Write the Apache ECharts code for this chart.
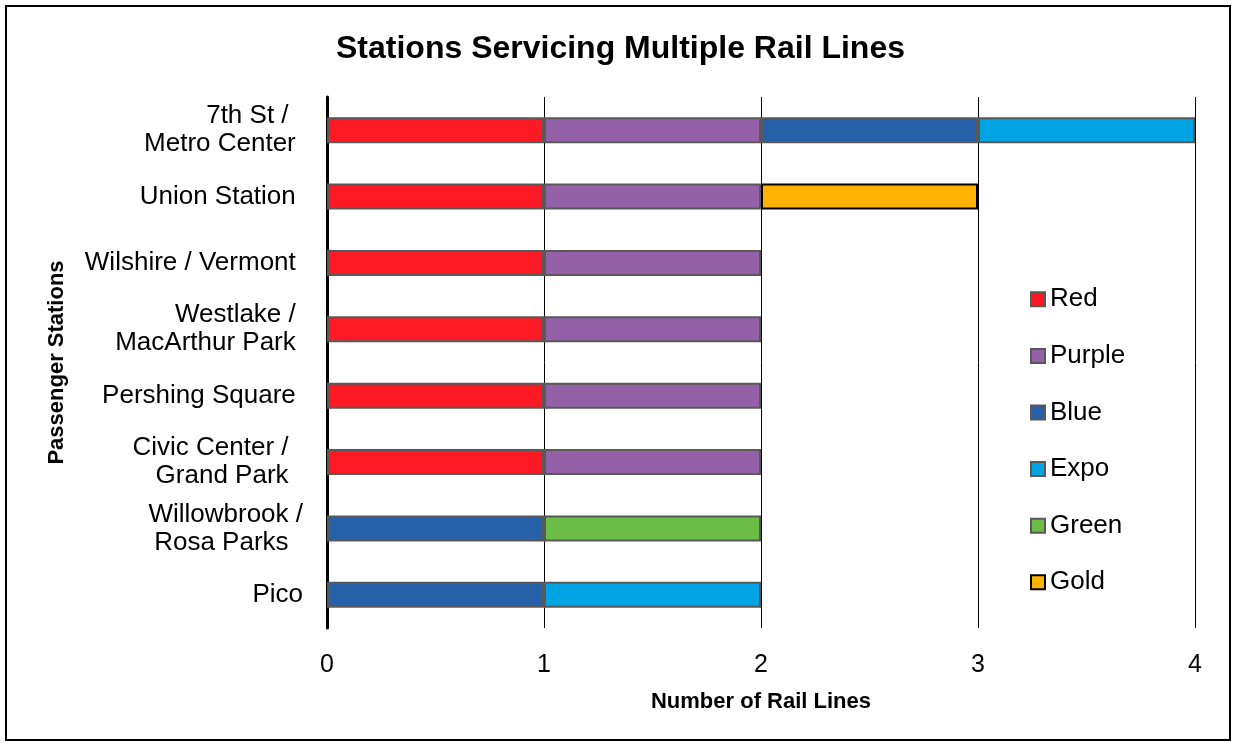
<!DOCTYPE html>
<html>
<head>
<meta charset="utf-8">
<script src="https://cdn.jsdelivr.net/npm/echarts@6/dist/echarts.min.js"></script>
<style>html,body{margin:0;padding:0;background:#fff}#c{width:1233px;height:745px}</style>
</head>
<body>
<div id="c"></div>
<script>
const categories = ['7th St /  \nMetro Center ', 'Union Station ', 'Wilshire / Vermont ', 'Westlake / \nMacArthur Park ', 'Pershing Square ', 'Civic Center /  \nGrand Park  ', 'Willowbrook /\nRosa Parks  ', 'Pico'];
const seriesNames = ['Red', 'Purple', 'Blue', 'Expo', 'Green', 'Gold'];
const red    = [1, 1, 1, 1, 1, 1, 0, 0];
const purple = [1, 1, 1, 1, 1, 1, 0, 0];
const blue   = [1, 0, 0, 0, 0, 0, 1, 1];
const expo   = [1, 0, 0, 0, 0, 0, 0, 1];
const green  = [0, 0, 0, 0, 0, 0, 1, 0];
const gold   = [0, 1, 0, 0, 0, 0, 0, 0];
const xTicks = [0, 1, 2, 3, 4];

const SANS = "'Liberation Sans',Arial,sans-serif";
const colors = ['#FD1A24', '#9461A8', '#2660A8', '#00A4E2', '#6BBD45', '#FFB300'];
const borders = ['#595959', '#595959', '#595959', '#595959', '#595959', '#000000'];
const values = [red, purple, blue, expo, green, gold];

const chart = echarts.init(document.getElementById('c'), null, {renderer: 'canvas'});
chart.setOption({
  animation: false,
  backgroundColor: '#fff',
  title: {
    text: 'Stations Servicing Multiple Rail Lines',
    left: 331,
    top: 28,
    textStyle: {fontFamily: SANS, fontWeight: 'bold', fontSize: 32, color: '#000'}
  },
  graphic: [{
    type: 'rect', shape: {x: 6, y: 6, width: 1224, height: 734},
    style: {fill: 'none', stroke: '#000', lineWidth: 2}, silent: true
  }],
  legend: {
    orient: 'vertical',
    left: 1025,
    top: 281,
    itemWidth: 14,
    itemHeight: 14,
    itemGap: 30,
    icon: 'rect',
    data: seriesNames,
    textStyle: {fontFamily: SANS, fontSize: 26, color: '#000', lineHeight: 26.6}
  },
  grid: {left: 327, right: 38, top: 97, bottom: 117},
  xAxis: {
    type: 'value',
    min: xTicks[0],
    max: xTicks[xTicks.length - 1],
    interval: 1,
    name: 'Number of Rail Lines',
    nameLocation: 'middle',
    nameGap: 63,
    nameTextStyle: {fontFamily: SANS, fontWeight: 'bold', fontSize: 22, color: '#000'},
    axisLine: {show: false},
    axisTick: {show: false},
    axisLabel: {fontFamily: SANS, fontSize: 25, color: '#000', margin: 25},
    splitLine: {show: true, lineStyle: {color: '#000', width: 1}}
  },
  yAxis: {
    type: 'category',
    inverse: true,
    data: categories,
    name: 'Passenger Stations',
    nameLocation: 'middle',
    nameRotate: 90,
    nameGap: 259,
    nameTextStyle: {fontFamily: SANS, fontWeight: 'bold', fontSize: 22, color: '#000'},
    axisLine: {show: true, lineStyle: {color: '#000', width: 3}},
    axisTick: {show: false},
    axisLabel: {fontFamily: SANS, fontSize: 26, color: '#000', margin: 24, lineHeight: 28, align: 'right'},
    splitLine: {show: false}
  },
  series: seriesNames.map((name, i) => ({
    name: name,
    type: 'bar',
    stack: 'total',
    barWidth: 26,
    data: values[i].map(v => v === 0 ? null : v),
    itemStyle: {color: colors[i], borderColor: borders[i], borderWidth: 2}
  }))
});
</script>
</body>
</html>
